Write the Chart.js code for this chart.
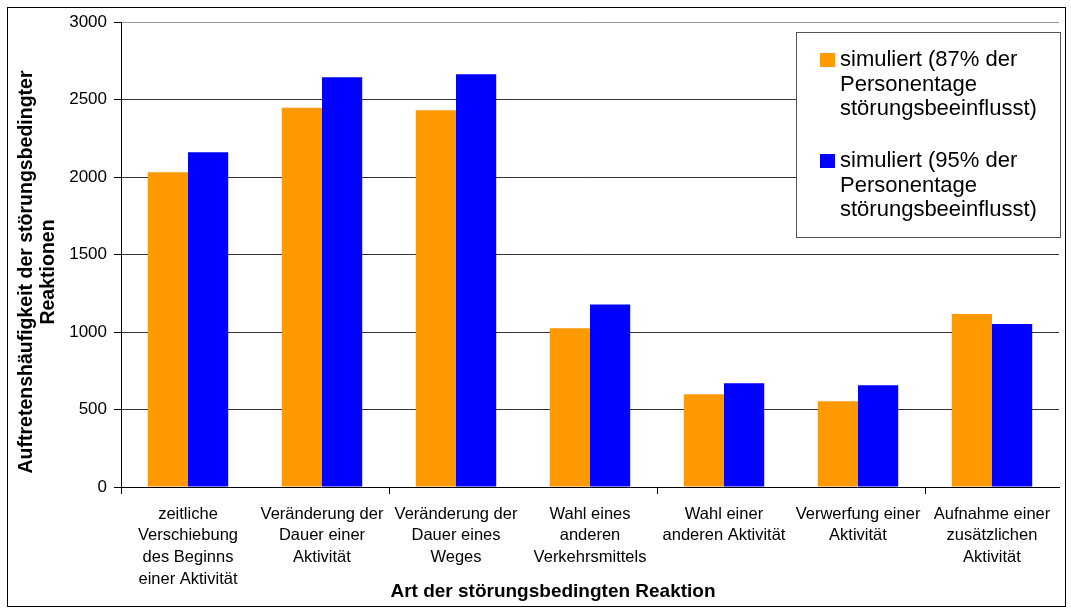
<!DOCTYPE html>
<html>
<head>
<meta charset="utf-8">
<script src="https://cdn.jsdelivr.net/npm/chart.js@4/dist/chart.umd.min.js"></script>
<style>
  html, body { margin: 0; padding: 0; background: #fff; }
  #wrap { width: 1071px; height: 608px; }
</style>
</head>
<body>
<div id="wrap"><canvas id="chart" width="1071" height="608"></canvas></div>
<script>
// categories (multi-line labels)
const categories = [
    ['zeitliche', 'Verschiebung', 'des Beginns', 'einer Aktivität'],
    ['Veränderung der', 'Dauer einer', 'Aktivität'],
    ['Veränderung der', 'Dauer eines', 'Weges'],
    ['Wahl eines', 'anderen', 'Verkehrsmittels'],
    ['Wahl einer', 'anderen Aktivität'],
    ['Verwerfung einer', 'Aktivität'],
    ['Aufnahme einer', 'zusätzlichen', 'Aktivität']
];
const sim87 = [2030, 2446, 2431, 1024, 599, 554, 1116];
const sim95 = [2159, 2644, 2663, 1178, 670, 657, 1052];
const legend87 = ['simuliert (87% der', 'Personentage', 'störungsbeeinflusst)'];
const legend95 = ['simuliert (95% der', 'Personentage', 'störungsbeeinflusst)'];
const yTitle = ['Auftretenshäufigkeit der störungsbedingter', 'Reaktionen'];
const xTitle = 'Art der störungsbedingten Reaktion';

const FONT = "'Liberation Sans', Arial, sans-serif";

// white background, outer frame, axis titles and legend box
const framePlugin = {
    id: 'frame',
    beforeDraw(chart) {
        const c = chart.ctx;
        c.save();
        c.fillStyle = '#fff';
        c.fillRect(0, 0, chart.width, chart.height);
        c.restore();
    },
    afterDraw(chart) {
        const c = chart.ctx;
        c.save();
        c.strokeStyle = '#000';
        c.lineWidth = 1;
        c.strokeRect(7.5, 7.5, 1058, 599);

        // axis titles (Excel places them a bit off-centre)
        c.fillStyle = '#000';
        c.textAlign = 'center';
        c.textBaseline = 'middle';
        c.font = 'bold 19px ' + FONT;
        c.fillText(xTitle, 553, 592);
        c.save();
        c.translate(0, 272);
        c.rotate(-Math.PI / 2);
        c.font = 'bold 19.5px ' + FONT;
        yTitle.forEach((t, i) => c.fillText(t, 0, 27 + i * 21.5));
        c.restore();

        // legend
        const bx = 796, by = 32, bw = 264, bh = 205;
        c.fillStyle = '#fff';
        c.fillRect(bx, by, bw, bh);
        c.strokeStyle = '#555';
        c.strokeRect(bx + 0.5, by + 0.5, bw, bh);
        const entries = [
            { lines: legend87, color: '#FF9900', y: 60 },
            { lines: legend95, color: '#0000FF', y: 161 }
        ];
        c.font = '22px ' + FONT;
        c.textAlign = 'left';
        entries.forEach(e => {
            c.fillStyle = e.color;
            c.fillRect(820, e.y - 7, 15, 14);
            c.fillStyle = '#000';
            e.lines.forEach((t, i) => c.fillText(t, 840, e.y + i * 24.5));
        });
        c.restore();
    }
};

new Chart(document.getElementById('chart').getContext('2d'), {
    type: 'bar',
    data: {
        labels: categories,
        datasets: [{
            label: legend87.join(' '),
            data: sim87,
            backgroundColor: '#FF9900',
            borderWidth: 0
        }, {
            label: legend95.join(' '),
            data: sim95,
            backgroundColor: '#0000FF',
            borderWidth: 0
        }]
    },
    options: {
        responsive: false,
        animation: false,
        layout: { padding: { left: 12, top: 22, right: 12, bottom: 3 } },
        datasets: {
            bar: { categoryPercentage: 0.6, barPercentage: 1.0 }
        },
        scales: {
            x: {
                afterFit: (scale) => { scale.height = 118; },
                grid: {
                    drawOnChartArea: false,
                    offset: true,
                    tickLength: 7,
                    color: (ctx) => (ctx.index % 2 === 0 && ctx.index < categories.length) ? '#000' : 'rgba(0,0,0,0)'
                },
                border: { display: true, color: '#000', width: 1 },
                ticks: {
                    color: '#000',
                    font: { family: FONT, size: 16.5, lineHeight: 1.33 },
                    maxRotation: 0,
                    autoSkip: false,
                    padding: 9
                }
            },
            y: {
                min: 0,
                max: 3000,
                afterFit: (scale) => { scale.width = 109; },
                ticks: {
                    stepSize: 500,
                    color: '#000',
                    font: { family: FONT, size: 17 },
                    padding: 7,
                    callback: (v) => String(v)
                },
                grid: {
                    color: (ctx) => ctx.tick && ctx.tick.value === 3000 ? '#999' : '#333',
                    tickColor: '#000',
                    tickLength: 7,
                    lineWidth: 1
                },
                border: { display: true, color: '#000', width: 1 }
            }
        },
        plugins: {
            legend: { display: false },
            tooltip: { enabled: false }
        }
    },
    plugins: [framePlugin]
});
</script>
</body>
</html>
